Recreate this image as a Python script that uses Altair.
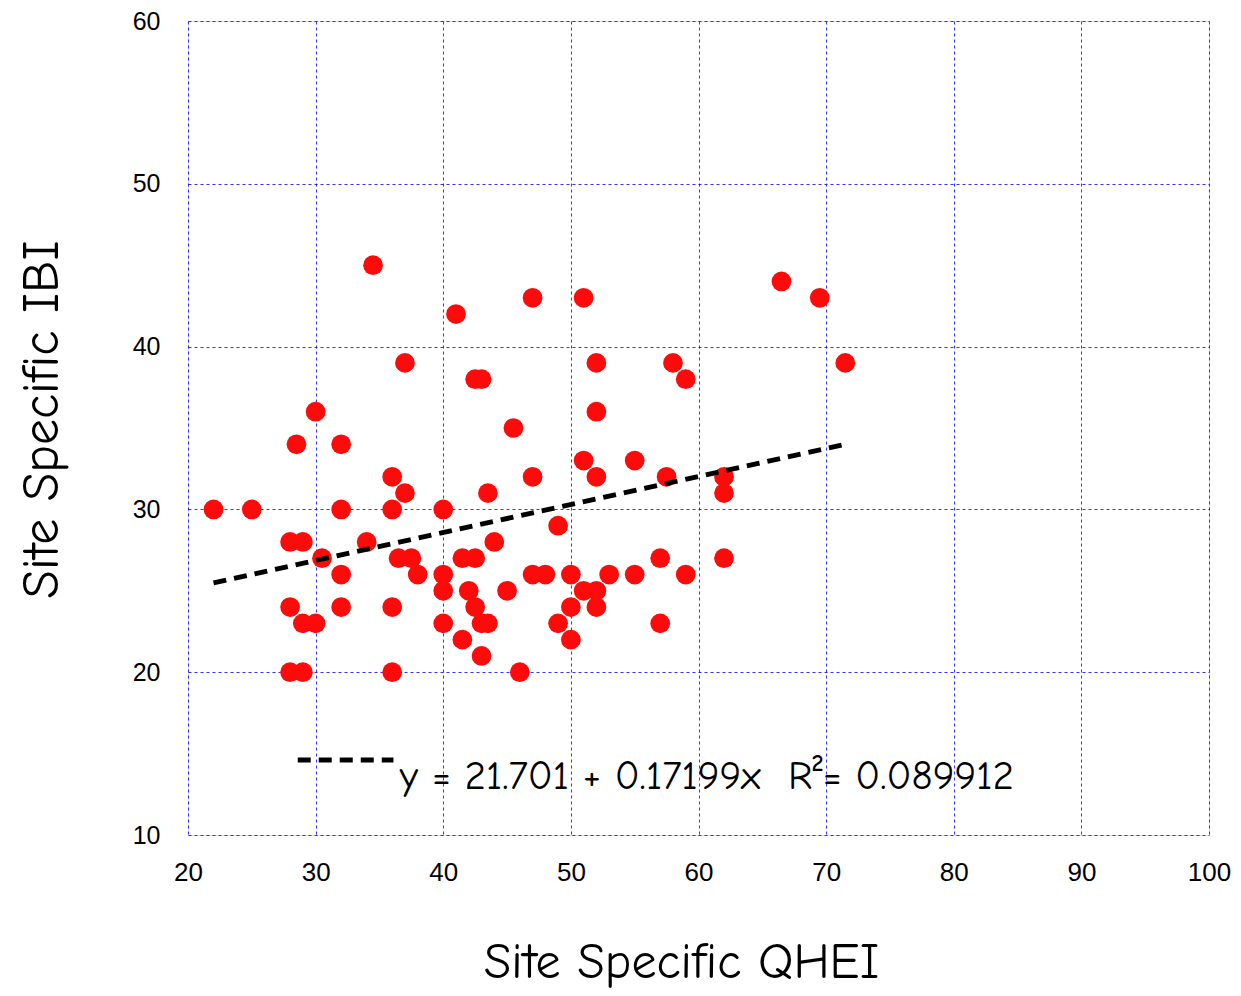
import altair as alt
import pandas as pd

# Site Specific QHEI (x) and Site Specific IBI (y)
qhei = [22, 25, 28, 29, 28.5, 28, 29, 30, 28, 29,
        30, 30.5, 32, 32, 32, 32, 34.5, 34, 36, 37,
        36, 36.5, 37.5, 38, 36, 36, 37,
        40, 40, 40, 40,
        41, 47, 51, 42.5, 43, 52, 45.5, 52, 51, 55,
        52, 47, 43.5, 49, 44, 41.5, 42.5, 47, 48, 50,
        53, 55, 42, 45, 51, 52, 42.5, 50, 52, 43,
        43.5, 49, 41.5, 50, 43, 46,
        66.5, 69.5, 71.5, 58, 59, 57.5, 62, 62, 62, 57, 59, 57]
ibi = [30, 30, 28, 28, 34, 24, 23, 23, 20, 20,
       36, 27, 34, 30, 26, 24, 45, 28, 32, 31,
       30, 27, 27, 26, 24, 20, 39,
       30, 26, 25, 23,
       42, 43, 43, 38, 38, 39, 35, 36, 33, 33,
       32, 32, 31, 29, 28, 27, 27, 26, 26, 26,
       26, 26, 25, 25, 25, 25, 24, 24, 24, 23,
       23, 23, 22, 22, 21, 20,
       44, 43, 39, 39, 38, 32, 32, 31, 27, 27, 26, 23]

INTERCEPT = 21.701
SLOPE = 0.17199
fit_label = "y = 21.701 + 0.17199x\u00a0\u00a0R\u00b2= 0.089912"

x_ticks = [20, 30, 40, 50, 60, 70, 80, 90, 100]
y_ticks = [10, 20, 30, 40, 50, 60]

df = pd.DataFrame({"QHEI": qhei, "IBI": ibi})
xmin, xmax = min(qhei), max(qhei)
fit = pd.DataFrame({"QHEI": [xmin, xmax],
                    "IBI": [INTERCEPT + SLOPE * xmin, INTERCEPT + SLOPE * xmax]})

# legend key position (data units)
leg = pd.DataFrame({"x1": [28.6], "x2": [36.1], "y": [14.6],
                    "tx": [36.6], "ty": [12.8], "label": [fit_label]})

TITLE_FONT = "Comic Sans MS, Comic Neue, Open Sans, DejaVu Sans"
LABEL_FONT = "Liberation Sans, Arial"

xscale = alt.Scale(domain=[20, 100], nice=False, zero=False)
yscale = alt.Scale(domain=[10, 60], nice=False, zero=False)

xaxis = alt.Axis(values=x_ticks, title="Site Specific QHEI", grid=True,
                 gridColor="#0000ff", gridDash=[3, 3], gridOpacity=0.8,
                 gridWidth=1, ticks=False, domain=False,
                 labelFont=LABEL_FONT, labelFontSize=26, labelColor="black",
                 labelPadding=24, titleFont=TITLE_FONT, titleFontSize=50,
                 titleFontWeight="normal", titleColor="black", titlePadding=52,
                 titleX=493, labelFlush=False)
yaxis = alt.Axis(values=y_ticks, title="Site Specific IBI", grid=True,
                 gridColor="#0000ff", gridDash=[3, 3], gridOpacity=0.8,
                 gridWidth=1, ticks=False, domain=False,
                 labelFont=LABEL_FONT, labelFontSize=25, labelColor="black",
                 labelPadding=28, titleFont=TITLE_FONT, titleFontSize=52,
                 titleFontWeight="normal", titleColor="black", titlePadding=64,
                 titleY=398, labelFlush=False)

points = alt.Chart(df).mark_circle(size=390, color="#ff0a0a", opacity=1).encode(
    x=alt.X("QHEI:Q", scale=xscale, axis=xaxis),
    y=alt.Y("IBI:Q", scale=yscale, axis=yaxis),
)

line = alt.Chart(fit).mark_line(color="black", strokeWidth=5,
                                strokeDash=[13, 8]).encode(
    x=alt.X("QHEI:Q", scale=xscale),
    y=alt.Y("IBI:Q", scale=yscale),
)

leg_rule = alt.Chart(leg).mark_rule(color="black", strokeWidth=5,
                                    strokeDash=[13, 8]).encode(
    x=alt.X("x1:Q", scale=xscale),
    x2="x2:Q",
    y=alt.Y("y:Q", scale=yscale),
)

leg_text = alt.Chart(leg).mark_text(align="left", baseline="alphabetic",
                                    font=TITLE_FONT, fontSize=41,
                                    color="black").encode(
    x=alt.X("tx:Q", scale=xscale),
    y=alt.Y("ty:Q", scale=yscale),
    text="label:N",
)

chart = alt.layer(points, line, leg_rule, leg_text).properties(
    width=1021, height=814,
    autosize=alt.AutoSizeParams(type="none"),
    padding={"left": 180, "top": 13, "right": 24, "bottom": 160},
).configure_view(stroke="#0000ff", strokeWidth=1.5).configure(background="white")

chart.save("out.html", embed_options={"renderer": "svg", "actions": False})
